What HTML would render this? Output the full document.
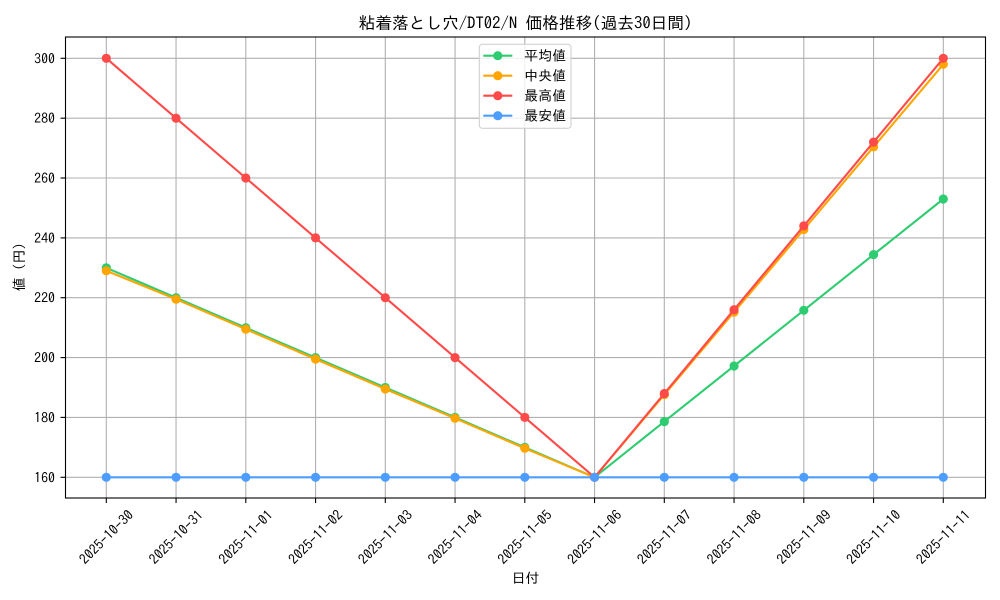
<!DOCTYPE html>
<html><head><meta charset="utf-8"><style>
html,body{margin:0;padding:0;background:#fff;}
svg{display:block;font-family:"IPAGothic","Liberation Sans","Noto Sans CJK JP",sans-serif;}
</style></head><body>
<svg width="1000" height="600" viewBox="0 0 1000 600" xmlns="http://www.w3.org/2000/svg">
<rect width="1000" height="600" fill="#fff"/>
<g stroke="#b0b0b0" stroke-width="1.1">
<line x1="106.3" y1="37" x2="106.3" y2="498"/><line x1="176.05" y1="37" x2="176.05" y2="498"/><line x1="245.8" y1="37" x2="245.8" y2="498"/><line x1="315.55" y1="37" x2="315.55" y2="498"/><line x1="385.3" y1="37" x2="385.3" y2="498"/><line x1="455.05" y1="37" x2="455.05" y2="498"/><line x1="524.8" y1="37" x2="524.8" y2="498"/><line x1="594.55" y1="37" x2="594.55" y2="498"/><line x1="664.3" y1="37" x2="664.3" y2="498"/><line x1="734.05" y1="37" x2="734.05" y2="498"/><line x1="803.8" y1="37" x2="803.8" y2="498"/><line x1="873.55" y1="37" x2="873.55" y2="498"/><line x1="943.3" y1="37" x2="943.3" y2="498"/>
<line x1="65.5" y1="477.3" x2="985.5" y2="477.3"/><line x1="65.5" y1="417.4" x2="985.5" y2="417.4"/><line x1="65.5" y1="357.6" x2="985.5" y2="357.6"/><line x1="65.5" y1="297.7" x2="985.5" y2="297.7"/><line x1="65.5" y1="237.9" x2="985.5" y2="237.9"/><line x1="65.5" y1="178.0" x2="985.5" y2="178.0"/><line x1="65.5" y1="118.2" x2="985.5" y2="118.2"/><line x1="65.5" y1="58.3" x2="985.5" y2="58.3"/>
</g>
<!-- series -->
<polyline fill="none" stroke-width="2.1" stroke-linejoin="round" stroke="#2ecc71" points="106.3,267.8 176.05,297.7 245.8,327.7 315.55,357.6 385.3,387.5 455.05,417.4 524.8,447.4 594.55,477.3 664.3,421.6 734.05,366.0 803.8,310.3 873.55,254.6 943.3,199.0"/>
<g fill="#2ecc71"><circle cx="106.3" cy="267.8" r="4.6"/><circle cx="176.05" cy="297.7" r="4.6"/><circle cx="245.8" cy="327.7" r="4.6"/><circle cx="315.55" cy="357.6" r="4.6"/><circle cx="385.3" cy="387.5" r="4.6"/><circle cx="455.05" cy="417.4" r="4.6"/><circle cx="524.8" cy="447.4" r="4.6"/><circle cx="594.55" cy="477.3" r="4.6"/><circle cx="664.3" cy="421.6" r="4.6"/><circle cx="734.05" cy="366.0" r="4.6"/><circle cx="803.8" cy="310.3" r="4.6"/><circle cx="873.55" cy="254.6" r="4.6"/><circle cx="943.3" cy="199.0" r="4.6"/></g>
<polyline fill="none" stroke-width="2.1" stroke-linejoin="round" stroke="#ffa500" points="106.3,270.8 176.05,299.2 245.8,329.2 315.55,359.1 385.3,389.0 455.05,418.3 524.8,448.3 594.55,477.3 664.3,394.7 734.05,312.1 803.8,229.5 873.55,146.9 943.3,64.3"/>
<g fill="#ffa500"><circle cx="106.3" cy="270.8" r="4.6"/><circle cx="176.05" cy="299.2" r="4.6"/><circle cx="245.8" cy="329.2" r="4.6"/><circle cx="315.55" cy="359.1" r="4.6"/><circle cx="385.3" cy="389.0" r="4.6"/><circle cx="455.05" cy="418.3" r="4.6"/><circle cx="524.8" cy="448.3" r="4.6"/><circle cx="594.55" cy="477.3" r="4.6"/><circle cx="664.3" cy="394.7" r="4.6"/><circle cx="734.05" cy="312.1" r="4.6"/><circle cx="803.8" cy="229.5" r="4.6"/><circle cx="873.55" cy="146.9" r="4.6"/><circle cx="943.3" cy="64.3" r="4.6"/></g>
<polyline fill="none" stroke-width="2.1" stroke-linejoin="round" stroke="#ff4a4a" points="106.3,58.3 176.05,118.2 245.8,178.0 315.55,237.9 385.3,297.7 455.05,357.6 524.8,417.4 594.55,477.3 664.3,393.5 734.05,309.7 803.8,225.9 873.55,142.1 943.3,58.3"/>
<g fill="#ff4a4a"><circle cx="106.3" cy="58.3" r="4.6"/><circle cx="176.05" cy="118.2" r="4.6"/><circle cx="245.8" cy="178.0" r="4.6"/><circle cx="315.55" cy="237.9" r="4.6"/><circle cx="385.3" cy="297.7" r="4.6"/><circle cx="455.05" cy="357.6" r="4.6"/><circle cx="524.8" cy="417.4" r="4.6"/><circle cx="594.55" cy="477.3" r="4.6"/><circle cx="664.3" cy="393.5" r="4.6"/><circle cx="734.05" cy="309.7" r="4.6"/><circle cx="803.8" cy="225.9" r="4.6"/><circle cx="873.55" cy="142.1" r="4.6"/><circle cx="943.3" cy="58.3" r="4.6"/></g>
<line x1="106.3" y1="477.3" x2="943.3" y2="477.3" stroke="#4d9dff" stroke-width="2.1"/>
<g fill="#4d9dff"><circle cx="106.3" cy="477.3" r="4.6"/><circle cx="176.05" cy="477.3" r="4.6"/><circle cx="245.8" cy="477.3" r="4.6"/><circle cx="315.55" cy="477.3" r="4.6"/><circle cx="385.3" cy="477.3" r="4.6"/><circle cx="455.05" cy="477.3" r="4.6"/><circle cx="524.8" cy="477.3" r="4.6"/><circle cx="594.55" cy="477.3" r="4.6"/><circle cx="664.3" cy="477.3" r="4.6"/><circle cx="734.05" cy="477.3" r="4.6"/><circle cx="803.8" cy="477.3" r="4.6"/><circle cx="873.55" cy="477.3" r="4.6"/><circle cx="943.3" cy="477.3" r="4.6"/></g>
<!-- spines -->
<rect x="65.5" y="37" width="920" height="461" fill="none" stroke="#000" stroke-width="1.1"/>
<!-- ticks -->
<g stroke="#000" stroke-width="1.1">
<line x1="106.3" y1="498" x2="106.3" y2="503"/><line x1="176.05" y1="498" x2="176.05" y2="503"/><line x1="245.8" y1="498" x2="245.8" y2="503"/><line x1="315.55" y1="498" x2="315.55" y2="503"/><line x1="385.3" y1="498" x2="385.3" y2="503"/><line x1="455.05" y1="498" x2="455.05" y2="503"/><line x1="524.8" y1="498" x2="524.8" y2="503"/><line x1="594.55" y1="498" x2="594.55" y2="503"/><line x1="664.3" y1="498" x2="664.3" y2="503"/><line x1="734.05" y1="498" x2="734.05" y2="503"/><line x1="803.8" y1="498" x2="803.8" y2="503"/><line x1="873.55" y1="498" x2="873.55" y2="503"/><line x1="943.3" y1="498" x2="943.3" y2="503"/>
<line x1="60.5" y1="477.3" x2="65.5" y2="477.3"/><line x1="60.5" y1="417.4" x2="65.5" y2="417.4"/><line x1="60.5" y1="357.6" x2="65.5" y2="357.6"/><line x1="60.5" y1="297.7" x2="65.5" y2="297.7"/><line x1="60.5" y1="237.9" x2="65.5" y2="237.9"/><line x1="60.5" y1="178.0" x2="65.5" y2="178.0"/><line x1="60.5" y1="118.2" x2="65.5" y2="118.2"/><line x1="60.5" y1="58.3" x2="65.5" y2="58.3"/>
</g>
<g font-size="13.9" fill="#000" text-anchor="end" dominant-baseline="central">
<text x="55" y="477.3">160</text><text x="55" y="417.4">180</text><text x="55" y="357.6">200</text><text x="55" y="297.7">220</text><text x="55" y="237.9">240</text><text x="55" y="178.0">260</text><text x="55" y="118.2">280</text><text x="55" y="58.3">300</text>
</g>
<g font-size="13.9" fill="#000" text-anchor="middle" dominant-baseline="central">
<text transform="translate(106.3,537) rotate(-45)">2025-10-30</text>
<text transform="translate(176.05,537) rotate(-45)">2025-10-31</text>
<text transform="translate(245.8,537) rotate(-45)">2025-11-01</text>
<text transform="translate(315.55,537) rotate(-45)">2025-11-02</text>
<text transform="translate(385.3,537) rotate(-45)">2025-11-03</text>
<text transform="translate(455.05,537) rotate(-45)">2025-11-04</text>
<text transform="translate(524.8,537) rotate(-45)">2025-11-05</text>
<text transform="translate(594.55,537) rotate(-45)">2025-11-06</text>
<text transform="translate(664.3,537) rotate(-45)">2025-11-07</text>
<text transform="translate(734.05,537) rotate(-45)">2025-11-08</text>
<text transform="translate(803.8,537) rotate(-45)">2025-11-09</text>
<text transform="translate(873.55,537) rotate(-45)">2025-11-10</text>
<text transform="translate(943.3,537) rotate(-45)">2025-11-11</text>
</g>
<text x="525.5" y="583" font-size="13.9" text-anchor="middle">日付</text>
<text transform="translate(24,267) rotate(-90)" font-size="13.9" text-anchor="middle">値 (円)</text>
<text x="525.5" y="29" font-size="16.7" text-anchor="middle">粘着落とし穴/DT02/N 価格推移(過去30日間)</text>
<!-- legend -->
<rect x="479.3" y="44.3" width="91.7" height="84" rx="3" fill="#fff" fill-opacity="0.8" stroke="#cccccc" stroke-width="1"/>
<g stroke-width="2.1">
<line x1="483.3" y1="55.7" x2="512.3" y2="55.7" stroke="#2ecc71"/><circle cx="497.8" cy="55.7" r="4.6" fill="#2ecc71"/>
<line x1="483.3" y1="75.7" x2="512.3" y2="75.7" stroke="#ffa500"/><circle cx="497.8" cy="75.7" r="4.6" fill="#ffa500"/>
<line x1="483.3" y1="95.7" x2="512.3" y2="95.7" stroke="#ff4a4a"/><circle cx="497.8" cy="95.7" r="4.6" fill="#ff4a4a"/>
<line x1="483.3" y1="115.7" x2="512.3" y2="115.7" stroke="#4d9dff"/><circle cx="497.8" cy="115.7" r="4.6" fill="#4d9dff"/>
</g>
<g font-size="13.9" fill="#000" dominant-baseline="central">
<text x="524.3" y="55.7">平均値</text>
<text x="524.3" y="75.7">中央値</text>
<text x="524.3" y="95.7">最高値</text>
<text x="524.3" y="115.7">最安値</text>
</g>
</svg>
</body></html>
